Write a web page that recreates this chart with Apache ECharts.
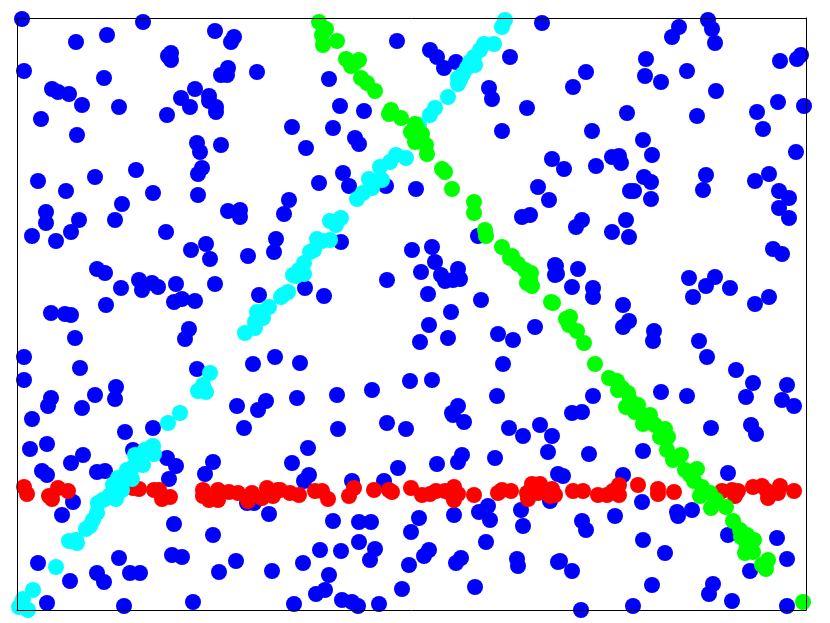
<!DOCTYPE html>
<html><head><meta charset="utf-8">
<style>html,body{margin:0;padding:0;background:#fff}#c{width:830px;height:623px}</style>
<script src="https://cdn.jsdelivr.net/npm/echarts@6/dist/echarts.min.js"></script>
</head><body><div id="c"></div>
<script>
const xRange = [17, 806];
const yRange = [18, 610];
const blue = [[22,19],[143,22],[76,42],[107,35],[215,31],[234,37],[231,42],[171,53],[168,56],[171,60],[24,71],[104,78],[257,72],[228,68],[221,75],[227,75],[52,89],[58,92],[69,94],[82,105],[119,107],[41,119],[77,135],[195,89],[181,98],[209,96],[209,101],[190,107],[216,107],[216,112],[167,115],[197,143],[200,152],[221,145],[202,168],[198,174],[136,170],[95,177],[38,181],[66,191],[153,193],[198,195],[122,204],[46,212],[228,211],[240,210],
[542,23],[397,41],[430,50],[437,57],[444,68],[456,62],[510,57],[329,79],[489,88],[492,99],[527,108],[340,106],[364,111],[502,131],[292,127],[333,128],[355,138],[359,144],[306,148],[552,159],[343,173],[319,183],[349,186],[386,186],[416,189],[289,200],[538,187],[549,200],[284,214],
[708,20],[712,29],[679,27],[672,37],[715,43],[646,59],[801,55],[797,59],[780,61],[586,72],[573,87],[645,76],[661,82],[687,71],[716,91],[778,102],[804,106],[757,112],[627,113],[697,116],[763,129],[592,131],[643,140],[652,155],[796,152],[564,169],[612,157],[619,156],[621,163],[596,166],[644,177],[651,182],[706,175],[703,190],[755,181],[769,174],[779,191],[789,198],[779,208],[630,191],[634,191],[651,199],
[46,223],[79,220],[115,220],[71,232],[32,236],[56,241],[166,232],[206,244],[191,250],[210,259],[248,256],[240,217],[276,239],[274,252],[97,269],[105,273],[121,288],[139,280],[142,290],[152,283],[158,287],[176,284],[215,284],[174,302],[182,299],[195,301],[259,295],[106,305],[51,313],[65,314],[71,315],[75,338],[189,329],[185,339],[24,357],[24,380],[80,368],[197,369],[253,364],[275,357],[116,387],[115,399],[95,395],[51,398],[48,406],[82,408],[237,406],[266,401],[258,410],[32,419],
[341,242],[305,288],[324,296],[387,280],[412,250],[432,247],[435,262],[421,272],[458,269],[441,275],[445,281],[453,280],[460,279],[428,294],[481,300],[451,312],[429,325],[420,342],[448,338],[498,334],[513,340],[535,327],[503,364],[300,363],[297,398],[337,395],[372,390],[410,381],[432,380],[497,396],[458,406],[452,413],[522,217],[530,215],[478,236],[555,265],[555,275],
[582,220],[576,227],[626,220],[612,232],[629,237],[789,218],[773,249],[782,254],[689,278],[715,277],[706,286],[730,288],[693,297],[769,297],[755,304],[556,266],[557,274],[578,269],[572,287],[593,288],[593,297],[623,305],[629,321],[623,327],[654,331],[653,341],[699,341],[707,357],[736,370],[753,383],[746,397],[787,385],[782,400],[794,406],[661,392],[687,396],[593,396],[572,413],[582,412],
[244,428],[153,428],[125,432],[47,444],[30,449],[133,450],[83,455],[71,463],[167,458],[176,466],[213,462],[205,474],[169,479],[42,471],[47,475],[97,472],[105,471],[73,502],[62,515],[269,514],[174,524],[213,535],[38,563],[119,558],[172,555],[182,557],[236,561],[219,572],[272,571],[97,573],[104,582],[130,573],[140,573],[70,581],[47,603],[124,606],[193,602],[247,503],[254,503],
[338,429],[387,423],[406,429],[308,448],[292,463],[309,475],[304,481],[352,481],[384,481],[398,468],[437,464],[462,455],[458,462],[495,458],[453,415],[464,422],[509,428],[523,436],[540,425],[552,436],[548,452],[558,474],[550,501],[333,521],[359,522],[371,522],[419,518],[411,532],[454,515],[479,512],[488,506],[490,520],[521,510],[523,526],[486,542],[359,542],[320,550],[341,551],[375,549],[370,560],[303,563],[409,565],[429,550],[424,556],[461,558],[456,563],[517,559],[518,566],[558,562],[329,575],[325,590],[316,594],[402,589],[475,587],[294,604],[342,600],[352,602],[358,606],[379,604],
[711,428],[751,425],[756,434],[589,454],[643,451],[728,473],[563,476],[623,475],[642,502],[582,521],[586,530],[615,516],[677,512],[678,516],[692,510],[728,535],[777,538],[787,559],[643,540],[665,553],[560,561],[572,571],[750,571],[652,585],[713,584],[709,594],[732,601],[633,606],[581,610],[787,606]];
const red = [[24,487],[27,494],[49,496],[52,499],[58,488],[68,491],[133,488],[139,489],[154,490],[159,490],[162,499],[170,497],[203,490],[203,496],[209,500],[218,490],[218,500],[229,492],[238,493],[248,501],[252,493],[262,498],[267,488],[273,496],[278,490],[280,490],[290,493],[299,495],[315,491],[322,491],[328,499],[354,488],[349,496],[374,490],[389,490],[392,492],[411,488],[422,495],[430,494],[436,491],[445,491],[454,487],[452,495],[458,494],[454,500],[474,495],[498,493],[502,490],[511,491],[527,493],[532,484],[540,484],[528,499],[538,493],[552,489],[550,496],[555,495],[573,491],[583,491],[598,495],[607,495],[613,491],[619,485],[619,495],[638,485],[658,489],[658,494],[674,492],[722,491],[732,490],[738,491],[735,496],[753,487],[762,486],[767,491],[768,498],[780,486],[778,493],[794,491]];
const cyan = [[505,20],[502,27],[494,44],[484,44],[480,50],[474,57],[475,65],[470,62],[467,68],[463,74],[458,78],[460,80],[458,84],[448,97],[435,108],[430,115],[419,125],[406,158],[396,155],[390,162],[380,167],[382,180],[369,179],[372,188],[363,193],[357,199],[341,218],[330,221],[336,225],[330,240],[322,241],[317,239],[314,250],[310,252],[304,263],[304,274],[299,270],[296,276],[293,275],[288,292],[283,295],[281,297],[269,307],[262,312],[257,312],[263,318],[255,322],[255,328],[245,333],[210,373],[203,385],[198,391],[206,392],[180,413],[168,423],[153,446],[154,454],[150,448],[145,450],[143,465],[135,455],[132,468],[127,470],[132,479],[124,480],[118,478],[122,490],[113,485],[116,499],[110,495],[107,498],[103,500],[98,503],[97,513],[93,520],[90,526],[86,529],[76,540],[69,541],[77,543],[56,567],[33,590],[23,599],[19,607],[28,610],[21,605]];
const green = [[319,22],[326,29],[322,35],[323,45],[337,41],[346,59],[359,60],[355,63],[351,66],[361,78],[367,83],[375,91],[391,110],[389,114],[401,118],[415,124],[417,128],[411,132],[422,134],[418,135],[420,140],[415,142],[426,145],[427,154],[442,169],[445,172],[452,189],[474,202],[474,213],[485,230],[486,236],[502,247],[510,258],[512,256],[518,264],[525,270],[531,273],[530,280],[527,283],[532,286],[551,302],[553,303],[570,317],[566,319],[569,325],[577,331],[584,343],[595,364],[609,378],[617,381],[622,388],[618,390],[628,393],[630,400],[638,405],[626,407],[635,412],[650,415],[643,415],[655,425],[652,423],[643,424],[665,429],[668,437],[660,437],[667,450],[681,455],[673,460],[685,470],[690,475],[697,469],[694,481],[702,487],[700,496],[710,493],[711,508],[726,507],[716,500],[733,521],[740,530],[741,537],[747,535],[754,540],[747,545],[745,553],[753,552],[768,560],[762,565],[766,569],[803,602]];

const frameAxis = (position, extent) => ({
  type: 'value', position, min: extent[0], max: extent[1], z: 10,
  axisLine: {show: true, onZero: false, lineStyle: {color: '#000', width: 1}},
  axisTick: {show: false}, axisLabel: {show: false}, splitLine: {show: false}
});
const dots = (data, color, z) => ({
  type: 'scatter', data, symbol: 'circle', symbolSize: 16, clip: false, z,
  itemStyle: {color, opacity: 1}, silent: true
});
const chart = echarts.init(document.getElementById('c'), null, {renderer: 'canvas'});
chart.setOption({
  animation: false,
  grid: {left: 17, right: 24, top: 18, bottom: 13, show: false},
  xAxis: [frameAxis('bottom', xRange), frameAxis('top', xRange)],
  yAxis: [
    Object.assign(frameAxis('left', yRange), {inverse: true}),
    Object.assign(frameAxis('right', yRange), {inverse: true})
  ],
  series: [dots(blue, '#0000ff', 2), dots(red, '#ff0000', 3), dots(cyan, '#00ffff', 4), dots(green, '#00ff00', 5)]
});
</script></body></html>
